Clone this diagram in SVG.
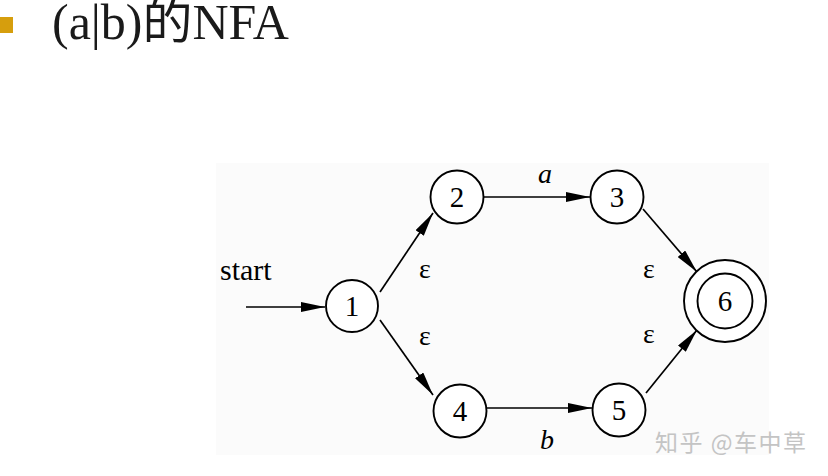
<svg xmlns="http://www.w3.org/2000/svg" width="828" height="476" viewBox="0 0 828 476">
<style>
.st{fill:#fff;stroke:#000;stroke-width:1.9}
.lb{font-family:"Liberation Serif","Times New Roman",serif;font-size:29px;fill:#000;text-anchor:middle}
.ed{stroke:#000;stroke-width:1.7;fill:none;marker-end:url(#ah)}
.eps{font-family:"Liberation Serif",serif;font-size:28px;fill:#000;text-anchor:middle}
.it{font-family:"Liberation Serif",serif;font-size:28px;font-style:italic;fill:#000;text-anchor:middle}
.ttl{font-family:"Liberation Serif","Noto Sans CJK SC",serif;font-size:50px;fill:#1a1a1a}
.sta{font-family:"Liberation Serif",serif;font-size:30px;fill:#000}
.wm{font-family:"Noto Sans CJK SC",sans-serif;font-size:23px;letter-spacing:1.5px;fill:#c4c4c4}
</style>
<defs>
<marker id="ah" markerUnits="userSpaceOnUse" markerWidth="24" markerHeight="10" refX="24" refY="5" orient="auto">
<path d="M0,0 L24,5 L0,10 z" fill="#000"/>
</marker>
</defs>
<rect width="828" height="476" fill="#fff"/>
<g id="title">
<rect x="0" y="17" width="13" height="16" fill="#d69e0d"/>
<text class="ttl" x="52" y="39">(a|b)的NFA</text>
</g>
<rect x="216" y="163" width="553" height="292" fill="#fbfbfb"/>
<g id="connectors">
<line class="ed" x1="246" y1="307" x2="325" y2="307"/>
<line class="ed" x1="380" y1="292" x2="433" y2="213"/>
<line class="ed" x1="380" y1="320" x2="433" y2="395"/>
<line class="ed" x1="484" y1="197" x2="590" y2="197"/>
<line class="ed" x1="487" y1="408" x2="592" y2="408"/>
<line class="ed" x1="643" y1="209" x2="697" y2="272"/>
<line class="ed" x1="646" y1="393" x2="697" y2="330"/>
<text class="sta" x="220" y="280">start</text>
<text class="eps" x="425" y="278">ε</text>
<text class="eps" x="425" y="345">ε</text>
<text class="eps" x="649" y="278">ε</text>
<text class="eps" x="649" y="343">ε</text>
<text class="it" x="545" y="183">a</text>
<text class="it" x="547" y="449">b</text>
</g>
<g id="n1"><circle class="st" cx="352" cy="306" r="26"/><text class="lb" x="352" y="316">1</text></g>
<g id="n2"><circle class="st" cx="457" cy="197" r="26.5"/><text class="lb" x="457" y="207">2</text></g>
<g id="n3"><circle class="st" cx="617" cy="197" r="26.5"/><text class="lb" x="617" y="207">3</text></g>
<g id="n4"><circle class="st" cx="460" cy="411" r="26.5"/><text class="lb" x="460" y="421">4</text></g>
<g id="n5"><circle class="st" cx="619" cy="410" r="26.5"/><text class="lb" x="619" y="420">5</text></g>
<g id="n6"><circle class="st" cx="725" cy="301" r="41"/><circle class="st" cx="725" cy="301" r="27.5"/><text class="lb" x="725" y="311">6</text></g>
<text class="wm" x="655" y="451">知乎 @车中草</text>
</svg>
